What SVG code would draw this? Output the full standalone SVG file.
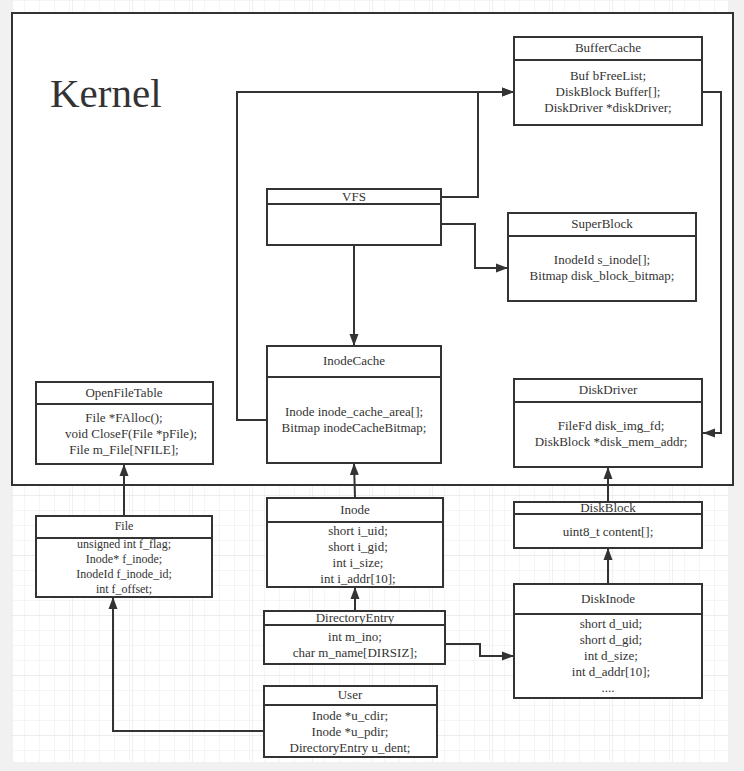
<svg xmlns="http://www.w3.org/2000/svg" width="744" height="771" viewBox="0 0 744 771">
<defs>
<pattern id="minor" x="12" y="0" width="15" height="15" patternUnits="userSpaceOnUse">
<path d="M0 0V15M0 0H15" fill="none" stroke="#ececec" stroke-width="1"/>
</pattern>
<pattern id="major" x="12" y="15" width="60" height="60" patternUnits="userSpaceOnUse">
<rect width="60" height="60" fill="url(#minor)"/>
<path d="M0 0V60M0 0H60" fill="none" stroke="#e2e2e2" stroke-width="1"/>
</pattern>
<marker id="arr" viewBox="0 0 12 10" refX="12" refY="5" markerWidth="12" markerHeight="10" markerUnits="userSpaceOnUse" orient="auto">
<path d="M0 0.5 L12 5 L0 9.5 Z" fill="#333"/>
</marker>
<style>
.box{fill:#fff;stroke:#333;stroke-width:2}
.sep{stroke:#333;stroke-width:2}
.t{font-family:"Liberation Serif","Times New Roman",serif;font-size:13px;fill:#333;text-anchor:middle}
.s{font-size:12px}
.c{fill:none;stroke:#333;stroke-width:2;marker-end:url(#arr)}
</style>
</defs>
<rect width="744" height="771" fill="#f1f1f1"/>
<rect x="12" y="0" width="716" height="762" fill="#fff"/>
<rect x="12" y="0" width="716" height="762" fill="url(#major)"/>
<g id="kernel">
<rect x="12" y="13" width="721" height="472" fill="#fff" stroke="#333" stroke-width="2"/>
<text x="50" y="107" font-family="Liberation Serif, Times New Roman, serif" font-size="41" fill="#333">Kernel</text>
</g>
<g id="connectors">
<path class="c" d="M441 197H478V92H514"/>
<path class="c" d="M267 420H237V92H514"/>
<path class="c" d="M702 92H721V433H703"/>
<path class="c" d="M441 224H475V268H508"/>
<path class="c" d="M354 245V346"/>
<path class="c" d="M355 498L354 463"/>
<path class="c" d="M124 516V464"/>
<path class="c" d="M608 502V467"/>
<path class="c" d="M608 584V548"/>
<path class="c" d="M355 611V587"/>
<path class="c" d="M445 644H480V656H514"/>
<path class="c" d="M264 731H113V597"/>
</g>
<g id="BufferCache">
<rect class="box" x="514" y="37" width="188" height="88"/>
<line class="sep" x1="514" y1="60" x2="702" y2="60"/>
<text class="t" x="608" y="52">BufferCache</text>
<text class="t" x="608" y="80">Buf bFreeList;</text>
<text class="t" x="608" y="96">DiskBlock Buffer[];</text>
<text class="t" x="608" y="112">DiskDriver *diskDriver;</text>
</g>
<g id="VFS">
<rect class="box" x="267" y="189" width="174" height="56"/>
<line class="sep" x1="267" y1="204" x2="441" y2="204"/>
<text class="t" x="354" y="201">VFS</text>
</g>
<g id="SuperBlock">
<rect class="box" x="508" y="213" width="188" height="88"/>
<line class="sep" x1="508" y1="236" x2="696" y2="236"/>
<text class="t" x="602" y="228">SuperBlock</text>
<text class="t" x="602" y="264">InodeId s_inode[];</text>
<text class="t" x="602" y="280">Bitmap disk_block_bitmap;</text>
</g>
<g id="InodeCache">
<rect class="box" x="267" y="346" width="174" height="117"/>
<line class="sep" x1="267" y1="377" x2="441" y2="377"/>
<text class="t" x="354" y="365">InodeCache</text>
<text class="t" x="354" y="416">Inode inode_cache_area[];</text>
<text class="t" x="354" y="432">Bitmap inodeCacheBitmap;</text>
</g>
<g id="OpenFileTable">
<rect class="box" x="36" y="382" width="177" height="82"/>
<line class="sep" x1="36" y1="404" x2="213" y2="404"/>
<text class="t" x="124" y="397">OpenFileTable</text>
<text class="t" x="124" y="422">File *FAlloc();</text>
<text class="t" x="131" y="438">void CloseF(File *pFile);</text>
<text class="t" x="124" y="454">File m_File[NFILE];</text>
</g>
<g id="DiskDriver">
<rect class="box" x="514" y="379" width="188" height="88"/>
<line class="sep" x1="514" y1="402" x2="702" y2="402"/>
<text class="t" x="608" y="394">DiskDriver</text>
<text class="t" x="611" y="430">FileFd disk_img_fd;</text>
<text class="t" x="611" y="446">DiskBlock *disk_mem_addr;</text>
</g>
<g id="File">
<rect class="box" x="36" y="516" width="176" height="81"/>
<line class="sep" x1="36" y1="538" x2="212" y2="538"/>
<text class="t s" x="124" y="530">File</text>
<text class="t s" x="124" y="548">unsigned int f_flag;</text>
<text class="t s" x="124" y="563">Inode* f_inode;</text>
<text class="t s" x="124" y="578">InodeId f_inode_id;</text>
<text class="t s" x="124" y="593">int f_offset;</text>
</g>
<g id="Inode">
<rect class="box" x="267" y="498" width="176" height="89"/>
<line class="sep" x1="267" y1="522" x2="443" y2="522"/>
<text class="t" x="355" y="514">Inode</text>
<text class="t" x="358" y="535">short i_uid;</text>
<text class="t" x="358" y="551">short i_gid;</text>
<text class="t" x="358" y="567">int i_size;</text>
<text class="t" x="358" y="583">int i_addr[10];</text>
</g>
<g id="DiskBlock">
<rect class="box" x="514" y="502" width="188" height="46"/>
<line class="sep" x1="514" y1="514" x2="702" y2="514"/>
<text class="t" x="608" y="512">DiskBlock</text>
<text class="t" x="608" y="536">uint8_t content[];</text>
</g>
<g id="DirectoryEntry">
<rect class="box" x="264" y="611" width="181" height="53"/>
<line class="sep" x1="264" y1="625" x2="445" y2="625"/>
<text class="t" x="355" y="622">DirectoryEntry</text>
<text class="t" x="355" y="641">int m_ino;</text>
<text class="t" x="355" y="657">char m_name[DIRSIZ];</text>
</g>
<g id="DiskInode">
<rect class="box" x="514" y="584" width="188" height="114"/>
<line class="sep" x1="514" y1="614" x2="702" y2="614"/>
<text class="t" x="608" y="603">DiskInode</text>
<text class="t" x="611" y="628">short d_uid;</text>
<text class="t" x="611" y="644">short d_gid;</text>
<text class="t" x="611" y="660">int d_size;</text>
<text class="t" x="611" y="676">int d_addr[10];</text>
<text class="t" x="608" y="692">....</text>
</g>
<g id="User">
<rect class="box" x="264" y="686" width="173" height="71"/>
<line class="sep" x1="264" y1="705" x2="437" y2="705"/>
<text class="t" x="350" y="699">User</text>
<text class="t" x="350" y="720">Inode *u_cdir;</text>
<text class="t" x="350" y="736">Inode *u_pdir;</text>
<text class="t" x="350" y="752">DirectoryEntry u_dent;</text>
</g>
</svg>
